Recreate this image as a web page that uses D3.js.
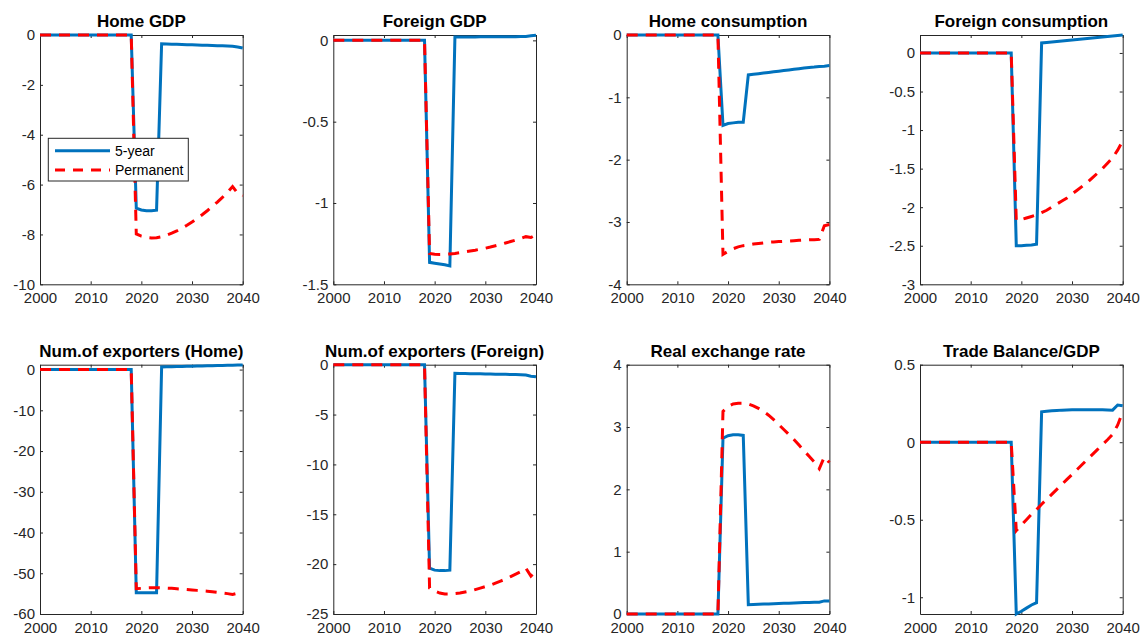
<!DOCTYPE html>
<html>
<head>
<meta charset="utf-8">
<script src="https://cdn.jsdelivr.net/npm/d3@7/dist/d3.min.js"></script>
<style>
  html, body { margin: 0; padding: 0; background: #fff; }
  svg { display: block; }
</style>
</head>
<body>
<svg id="chart" width="1142" height="634"></svg>
<script>
// Years of the simulation horizon
const years = [2000,2001,2002,2003,2004,2005,2006,2007,2008,2009,2010,2011,2012,2013,2014,2015,2016,2017,2018,2019,2020,2021,2022,2023,2024,2025,2026,2027,2028,2029,2030,2031,2032,2033,2034,2035,2036,2037,2038,2039,2040];
const xTicks = [2000, 2010, 2020, 2030, 2040];
const seriesNames = ["5-year", "Permanent"];

const titles = ["Home GDP", "Foreign GDP", "Home consumption", "Foreign consumption",
                "Num.of exporters (Home)", "Num.of exporters (Foreign)", "Real exchange rate", "Trade Balance/GDP"];

// Responses, 2000-2040 (deviation from baseline)
const homeGdp5 = [0,0,0,0,0,0,0,0,0,0,0,0,0,0,0,0,0,0,0,-6.95,-7.02,-7.05,-7.05,-7.03,-0.35,-0.36,-0.37,-0.37,-0.38,-0.39,-0.39,-0.40,-0.41,-0.41,-0.42,-0.43,-0.43,-0.44,-0.45,-0.48,-0.52];
const homeGdpP = [0,0,0,0,0,0,0,0,0,0,0,0,0,0,0,0,0,0,0,-7.98,-8.07,-8.12,-8.14,-8.13,-8.09,-8.03,-7.95,-7.86,-7.75,-7.63,-7.50,-7.36,-7.21,-7.05,-6.88,-6.70,-6.51,-6.31,-6.08,-6.35,-6.45];

const forGdp5 = [0,0,0,0,0,0,0,0,0,0,0,0,0,0,0,0,0,0,0,-1.365,-1.370,-1.375,-1.380,-1.387,0.020,0.020,0.021,0.021,0.021,0.022,0.022,0.022,0.022,0.023,0.023,0.023,0.023,0.024,0.024,0.028,0.032];
const forGdpP = [0,0,0,0,0,0,0,0,0,0,0,0,0,0,0,0,0,0,0,-1.310,-1.315,-1.316,-1.315,-1.313,-1.310,-1.305,-1.300,-1.295,-1.290,-1.284,-1.278,-1.271,-1.263,-1.255,-1.246,-1.237,-1.228,-1.218,-1.207,-1.212,-1.195];

const homeCons5 = [0,0,0,0,0,0,0,0,0,0,0,0,0,0,0,0,0,0,0,-1.45,-1.42,-1.41,-1.40,-1.40,-0.64,-0.63,-0.62,-0.61,-0.60,-0.59,-0.58,-0.57,-0.56,-0.55,-0.54,-0.53,-0.52,-0.515,-0.505,-0.50,-0.49];
const homeConsP = [0,0,0,0,0,0,0,0,0,0,0,0,0,0,0,0,0,0,0,-3.52,-3.47,-3.43,-3.40,-3.38,-3.37,-3.355,-3.345,-3.335,-3.325,-3.32,-3.315,-3.31,-3.305,-3.30,-3.295,-3.29,-3.285,-3.285,-3.28,-3.06,-3.04];

const forCons5 = [0,0,0,0,0,0,0,0,0,0,0,0,0,0,0,0,0,0,0,-2.50,-2.50,-2.495,-2.49,-2.48,0.130,0.137,0.143,0.150,0.156,0.163,0.169,0.176,0.182,0.189,0.195,0.202,0.208,0.214,0.220,0.227,0.233];
const forConsP = [0,0,0,0,0,0,0,0,0,0,0,0,0,0,0,0,0,0,0,-2.17,-2.16,-2.14,-2.12,-2.10,-2.07,-2.04,-2.00,-1.96,-1.92,-1.88,-1.83,-1.78,-1.73,-1.68,-1.62,-1.56,-1.50,-1.43,-1.36,-1.26,-1.14];

const homeExp5 = [0,0,0,0,0,0,0,0,0,0,0,0,0,0,0,0,0,0,0,-54.8,-54.8,-54.8,-54.8,-54.8,0.65,0.68,0.71,0.74,0.77,0.80,0.83,0.86,0.89,0.92,0.95,0.98,1.01,1.04,1.07,1.11,1.15];
const homeExpP = [0,0,0,0,0,0,0,0,0,0,0,0,0,0,0,0,0,0,0,-53.8,-53.7,-53.6,-53.55,-53.55,-53.6,-53.65,-53.7,-53.8,-53.9,-54.0,-54.1,-54.2,-54.3,-54.4,-54.55,-54.7,-54.85,-55.0,-55.2,-54.9,-54.3];

const forExp5 = [0,0,0,0,0,0,0,0,0,0,0,0,0,0,0,0,0,0,0,-20.4,-20.6,-20.65,-20.65,-20.6,-0.87,-0.88,-0.89,-0.90,-0.91,-0.92,-0.93,-0.94,-0.95,-0.96,-0.97,-0.98,-0.99,-1.00,-1.04,-1.15,-1.20];
const forExpP = [0,0,0,0,0,0,0,0,0,0,0,0,0,0,0,0,0,0,0,-22.4,-22.7,-22.9,-23.0,-23.0,-22.95,-22.9,-22.8,-22.7,-22.55,-22.4,-22.25,-22.1,-21.9,-21.7,-21.5,-21.25,-21.0,-20.75,-20.4,-21.2,-20.7];

const rer5 = [0,0,0,0,0,0,0,0,0,0,0,0,0,0,0,0,0,0,0,2.82,2.86,2.875,2.875,2.865,0.150,0.153,0.156,0.159,0.162,0.165,0.168,0.171,0.174,0.177,0.180,0.183,0.186,0.189,0.190,0.210,0.210];
const rerP = [0,0,0,0,0,0,0,0,0,0,0,0,0,0,0,0,0,0,0,3.25,3.33,3.37,3.38,3.38,3.37,3.34,3.30,3.25,3.19,3.12,3.04,2.96,2.88,2.80,2.71,2.62,2.53,2.44,2.33,2.52,2.43];

const tb5 = [0,0,0,0,0,0,0,0,0,0,0,0,0,0,0,0,0,0,0,-1.108,-1.09,-1.07,-1.05,-1.035,0.196,0.200,0.203,0.205,0.207,0.208,0.209,0.210,0.210,0.210,0.210,0.210,0.209,0.208,0.207,0.240,0.235];
const tbP = [0,0,0,0,0,0,0,0,0,0,0,0,0,0,0,0,0,0,0,-0.57,-0.535,-0.50,-0.465,-0.435,-0.40,-0.368,-0.336,-0.304,-0.272,-0.24,-0.208,-0.176,-0.144,-0.112,-0.08,-0.048,-0.016,0.016,0.05,0.11,0.195];

// Axis limits and tick values per panel
const yLimits = [[-10, 0], [-1.5, 0.033], [-4, 0], [-3, 0.233], [-60, 1.2], [-25, 0], [0, 4], [-1.108, 0.5]];
const yTickValues = [
  [0, -2, -4, -6, -8, -10],
  [0, -0.5, -1, -1.5],
  [0, -1, -2, -3, -4],
  [0, -0.5, -1, -1.5, -2, -2.5, -3],
  [0, -10, -20, -30, -40, -50, -60],
  [0, -5, -10, -15, -20, -25],
  [0, 1, 2, 3, 4],
  [0.5, 0, -0.5, -1]
];
const fiveYear = [homeGdp5, forGdp5, homeCons5, forCons5, homeExp5, forExp5, rer5, tb5];
const permanent = [homeGdpP, forGdpP, homeConsP, forConsP, homeExpP, forExpP, rerP, tbP];

// Layout of the 2x4 grid
const colLeft = [40, 333.3, 626.7, 920];
const rowTop = [35, 364.7];
const plotW = 202.7, plotH = 249.3;
const axisColor = "#262626";
const blue = "#0072BD", red = "#FF0000";
const font = "'Liberation Sans', Arial, Helvetica, sans-serif";

const svg = d3.select("#chart");

titles.forEach((title, i) => {
  const r = Math.floor(i / 4), c = i % 4;
  const g = svg.append("g").attr("transform", `translate(${colLeft[c]},${rowTop[r]})`);

  const x = d3.scaleLinear().domain([2000, 2040]).range([0, plotW]);
  const y = d3.scaleLinear().domain(yLimits[i]).range([plotH, 0]);

  const styleAxis = sel => {
    sel.attr("font-family", font).attr("font-size", 15);
    sel.selectAll("path.domain").attr("stroke", axisColor).attr("stroke-width", 1);
    sel.selectAll(".tick line").attr("stroke", axisColor).attr("stroke-width", 1);
    sel.selectAll(".tick text").attr("fill", axisColor);
  };

  g.append("g").attr("transform", `translate(0,${plotH})`)
    .call(d3.axisBottom(x).tickValues(xTicks).tickFormat(d3.format("d")).tickSizeInner(-3).tickSizeOuter(0).tickPadding(8.5))
    .call(styleAxis);
  g.append("g")
    .call(d3.axisTop(x).tickValues(xTicks).tickFormat("").tickSizeInner(-3).tickSizeOuter(0))
    .call(styleAxis);
  g.append("g")
    .call(d3.axisLeft(y).tickValues(yTickValues[i]).tickFormat(d => d3.format("")(d).replace("−", "-")).tickSizeInner(-3).tickSizeOuter(0).tickPadding(5))
    .call(styleAxis);
  g.append("g").attr("transform", `translate(${plotW},0)`)
    .call(d3.axisRight(y).tickValues(yTickValues[i]).tickFormat("").tickSizeInner(-3).tickSizeOuter(0))
    .call(styleAxis);

  const line = d3.line().x((d, k) => x(years[k])).y(d => y(d));

  g.append("path").datum(fiveYear[i])
    .attr("d", line).attr("fill", "none")
    .attr("stroke", blue).attr("stroke-width", 3);
  g.append("path").datum(permanent[i])
    .attr("d", line).attr("fill", "none")
    .attr("stroke", red).attr("stroke-width", 3)
    .attr("stroke-dasharray", "11,8");

  svg.append("text")
    .attr("x", colLeft[c] + plotW / 2).attr("y", rowTop[r] - 8)
    .attr("text-anchor", "middle")
    .attr("font-family", font).attr("font-size", 17).attr("font-weight", "bold")
    .attr("fill", "#000")
    .text(title);

  if (i === 0) {
    const lg = g.append("g").attr("transform", "translate(8.3,103.3)");
    lg.append("rect").attr("width", 140).attr("height", 42.7)
      .attr("fill", "#fff").attr("stroke", axisColor).attr("stroke-width", 1);
    const rows = [{ color: blue, dash: null, yy: 12.4 }, { color: red, dash: "10,8", yy: 31.7 }];
    rows.forEach((row, k) => {
      lg.append("line").attr("x1", 6.7).attr("x2", 61.7).attr("y1", row.yy).attr("y2", row.yy)
        .attr("stroke", row.color).attr("stroke-width", 3)
        .attr("stroke-dasharray", row.dash);
      lg.append("text").attr("x", 66.7).attr("y", row.yy).attr("dy", "0.35em")
        .attr("font-family", font).attr("font-size", 14).attr("fill", "#000")
        .text(seriesNames[k]);
    });
  }
});
</script>
</body>
</html>
